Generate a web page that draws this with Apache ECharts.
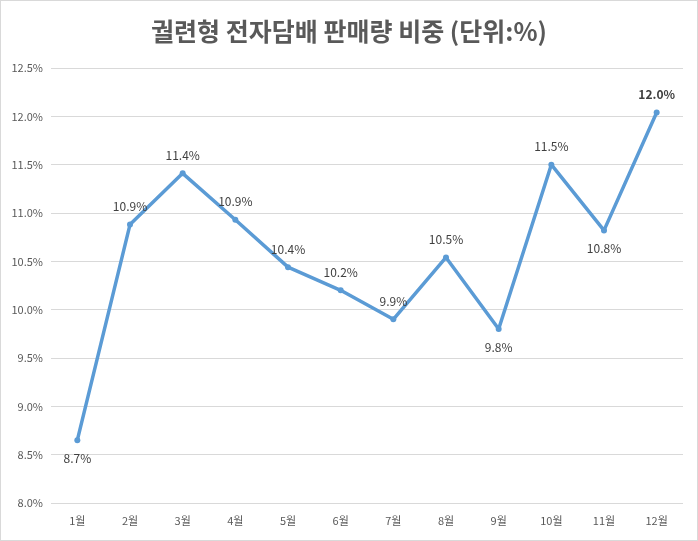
<!DOCTYPE html>
<html>
<head>
<meta charset="utf-8">
<script src="https://cdn.jsdelivr.net/npm/echarts@6/dist/echarts.min.js"></script>
<style>
  html, body { margin: 0; padding: 0; background: #fff; }
  #chart { position: absolute; left: 0; top: 0; width: 696px; height: 539px; border: 1px solid #d9d9d9; }
</style>
</head>
<body>
<div id="chart"></div>
<script>
// values
months = ["1월", "2월", "3월", "4월", "5월", "6월", "7월", "8월", "9월", "10월", "11월", "12월"]
shares = [8.65, 10.88, 11.41, 10.93, 10.44, 10.2, 9.9, 10.54, 9.8, 11.5, 10.82, 12.04]
labelSides = ["bottom", "top", "top", "top", "top", "top", "top", "top", "bottom", "top", "bottom", "top"]

var chart = echarts.init(document.getElementById("chart"));

var points = shares.map(function (v, i) {
    var item = { value: v, label: { position: labelSides[i] } };
    if (i == shares.length - 1)
        item.label.fontWeight = "bold";
    return item;
});

chart.setOption({
    animation: false,
    title: {
        text: "궐련형 전자담배 판매량 비중 (단위:%)",
        left: "center",
        top: 13,
        textStyle: {
            fontFamily: "Noto Sans CJK KR",
            fontSize: 25,
            fontWeight: "bold",
            color: "#595959"
        }
    },
    grid: { left: 50, right: 14, top: 67, bottom: 37 },
    xAxis: {
        type: "category",
        data: months,
        axisLine: { show: false },
        axisTick: { show: false },
        axisLabel: { color: "#595959", fontSize: 11, fontFamily: "Noto Sans CJK KR", margin: 12 }
    },
    yAxis: {
        type: "value",
        min: 8,
        max: 12.5,
        interval: 0.5,
        axisLabel: {
            color: "#595959",
            fontSize: 11,
            fontFamily: "Noto Sans CJK KR",
            formatter: function (v) { return v.toFixed(1) + "%"; }
        },
        splitLine: { lineStyle: { color: "#d9d9d9" } }
    },
    series: [
        {
            type: "line",
            data: points,
            symbol: "circle",
            symbolSize: 6,
            lineStyle: { color: "#5b9bd5", width: 3.5 },
            itemStyle: { color: "#5b9bd5" },
            label: {
                show: true,
                distance: 9,
                color: "#404040",
                fontSize: 12,
                fontFamily: "Noto Sans CJK KR",
                formatter: function (p) { return p.value.toFixed(1) + "%"; }
            }
        }
    ]
});
</script>
</body>
</html>
